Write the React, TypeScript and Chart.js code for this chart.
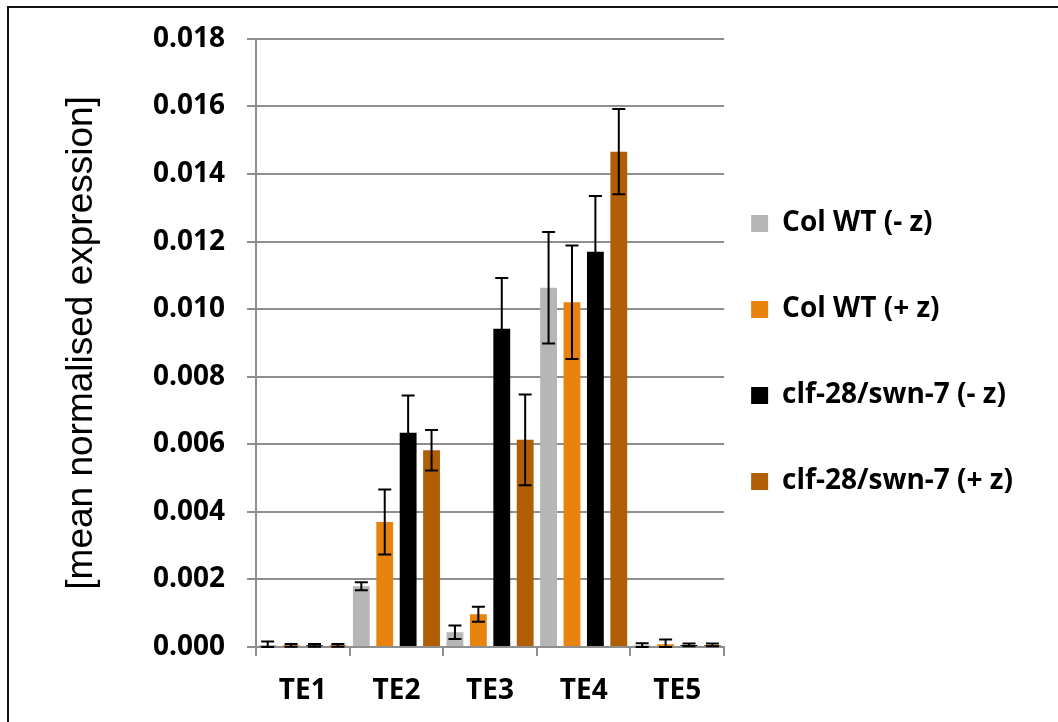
import React, { useEffect, useRef } from "react";
import { Chart, registerables } from "chart.js";

Chart.register(...registerables);

const categories = ["TE1", "TE2", "TE3", "TE4", "TE5"];
const seriesNames = ["Col WT (- z)", "Col WT (+ z)", "clf-28/swn-7 (- z)", "clf-28/swn-7 (+ z)"];
const seriesColors = ["#b6b6b6", "#e8830d", "#000000", "#b05f07"];

const colWTMinus = [0.00006, 0.0018, 0.00044, 0.01063, 0.00005];
const colWTMinusErr = [0.0001, 0.00012, 0.0002, 0.00165, 0.00006];
const colWTPlus = [0.00005, 0.0037, 0.00097, 0.0102, 0.00008];
const colWTPlusErr = [0.00004, 0.00096, 0.00022, 0.00168, 0.00014];
const clfMinus = [0.00005, 0.00634, 0.00942, 0.0117, 0.00006];
const clfMinusErr = [0.00004, 0.0011, 0.0015, 0.00165, 0.00004];
const clfPlus = [0.00005, 0.00582, 0.00613, 0.01466, 0.00006];
const clfPlusErr = [0.00004, 0.0006, 0.00134, 0.00126, 0.00004];

const yMin = 0;
const yMax = 0.018;
const yStep = 0.002;
const yTitle = "[mean normalised expression]";

const seriesValues = [colWTMinus, colWTPlus, clfMinus, clfPlus];
const seriesErrors = [colWTMinusErr, colWTPlusErr, clfMinusErr, clfPlusErr];

const GRID = "#8e8e8e";
const LABEL_FONT = { family: "'Open Sans', sans-serif", size: 28, weight: "bold" as const };
const LEGEND_PAD = 58;

const errorBarPlugin = {
  id: "errorBars",
  afterDatasetsDraw(chart: any) {
    const ctx = chart.ctx;
    const yScale = chart.scales.y;
    ctx.save();
    ctx.strokeStyle = "#000";
    ctx.lineWidth = 2;
    chart.data.datasets.forEach((ds: any, di: number) => {
      const meta = chart.getDatasetMeta(di);
      const errs = seriesErrors[di];
      meta.data.forEach((bar: any, i: number) => {
        const v = ds.data[i];
        const e = errs[i];
        const yTop = yScale.getPixelForValue(v + e);
        const yBot = yScale.getPixelForValue(Math.max(0, v - e));
        const x = bar.x;
        const cap = 6.5;
        ctx.beginPath();
        ctx.moveTo(x, yTop);
        ctx.lineTo(x, yBot);
        ctx.moveTo(x - cap, yTop);
        ctx.lineTo(x + cap, yTop);
        ctx.moveTo(x - cap, yBot);
        ctx.lineTo(x + cap, yBot);
        ctx.stroke();
      });
    });
    ctx.restore();
  },
};

const legendShiftPlugin = {
  id: "legendShift",
  afterLayout(chart: any) {
    const lg = chart.legend;
    if (!lg) return;
    lg.left = chart.chartArea.right + 27 - LEGEND_PAD;
    lg.top -= 21;
    lg.bottom -= 21;
  },
};

export default function App() {
  const canvasRef = useRef<HTMLCanvasElement | null>(null);

  useEffect(() => {
    const canvas = canvasRef.current;
    if (!canvas) return;
    const chart = new Chart(canvas, {
      type: "bar",
      data: {
        labels: categories,
        datasets: seriesNames.map((name, i) => ({
          label: name,
          data: seriesValues[i],
          backgroundColor: seriesColors[i],
          borderWidth: 0,
          barPercentage: 0.72,
          categoryPercentage: 1.0,
        })),
      },
      options: {
        animation: false,
        responsive: false,
        maintainAspectRatio: false,
        events: [],
        layout: { padding: { left: 48, top: 25, bottom: 0, right: 4 } },
        plugins: {
          tooltip: { enabled: false },
          legend: {
            position: "right",
            maxWidth: 340,
            labels: {
              boxWidth: 17,
              boxHeight: 17,
              padding: LEGEND_PAD,
              color: "#000",
              font: LABEL_FONT,
            },
          },
        },
        scales: {
          x: {
            offset: true,
            afterFit: (scale: any) => {
              scale.height = 75;
            },
            grid: {
              display: true,
              offset: true,
              drawOnChartArea: false,
              tickLength: 9,
              color: GRID,
              lineWidth: 2,
            },
            border: { display: true, color: GRID, width: 2 },
            ticks: { color: "#000", font: LABEL_FONT, padding: 18 },
          },
          y: {
            min: yMin,
            max: yMax,
            afterFit: (scale: any) => {
              scale.width = 256 - 48;
            },
            ticks: {
              stepSize: yStep,
              color: "#000",
              font: LABEL_FONT,
              padding: 22,
              callback: (v: any) => Number(v).toFixed(3),
            },
            grid: { color: GRID, lineWidth: 2, tickLength: 9 },
            border: { display: true, color: GRID, width: 2 },
            title: {
              display: true,
              text: yTitle,
              color: "#000",
              font: { family: "'Liberation Sans', Arial, sans-serif", size: 37, weight: "normal" as const },
              padding: { top: 12, bottom: 0 },
            },
          },
        },
      },
      plugins: [errorBarPlugin, legendShiftPlugin],
    });
    return () => chart.destroy();
  }, []);

  return (
    <div style={{ position: "fixed", left: 0, top: 0, width: 1058, height: 722, overflow: "hidden", background: "#fff" }}>
      <div
        style={{
          position: "absolute",
          left: 7,
          top: 6,
          width: 1100,
          height: 800,
          borderTop: "2px solid #111",
          borderLeft: "2px solid #111",
        }}
      />
      <canvas ref={canvasRef} width={1058} height={722} style={{ position: "absolute", left: 0, top: 0 }} />
    </div>
  );
}
